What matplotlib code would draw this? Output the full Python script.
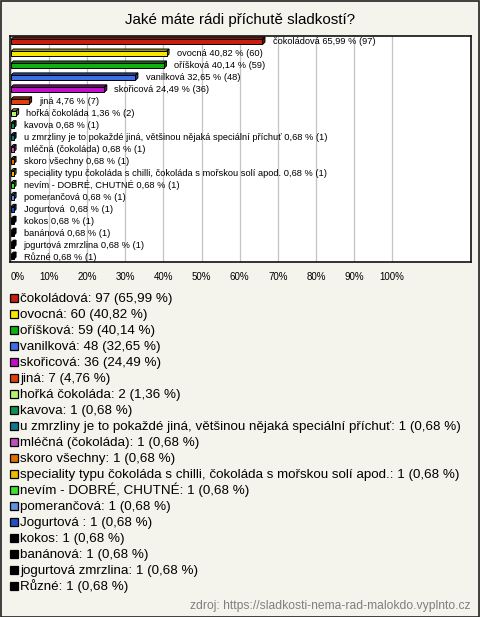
import matplotlib
matplotlib.use("Agg")
import matplotlib.pyplot as plt
from matplotlib.patches import Polygon, Rectangle

plt.rcParams['font.family'] = ['Liberation Sans', 'DejaVu Sans']

# data
flavours = ["čokoládová", "ovocná", "oříšková", "vanilková", "skořicová", "jiná",
            "hořká čokoláda", "kavova",
            "u zmrzliny je to pokaždé jiná, většinou nějaká speciální příchuť",
            "mléčná (čokoláda)", "skoro všechny",
            "speciality typu čokoláda s chilli, čokoláda s mořskou solí apod.",
            "nevím - DOBRÉ, CHUTNÉ", "pomerančová", "Jogurtová ", "kokos",
            "banánová", "jogurtová zmrzlina", "Různé"]
counts = [97, 60, 59, 48, 36, 7, 2, 1, 1, 1, 1, 1, 1, 1, 1, 1, 1, 1, 1]
percents = [65.99, 40.82, 40.14, 32.65, 24.49, 4.76, 1.36, 0.68, 0.68, 0.68,
            0.68, 0.68, 0.68, 0.68, 0.68, 0.68, 0.68, 0.68, 0.68]
colors = ["#c8200e", "#f5e800", "#10b010", "#3c6ee6", "#c010c8", "#e0400a",
          "#b8f070", "#109050", "#107890", "#c050c0", "#e07000", "#f0b800",
          "#40e030", "#6090e0", "#2050c0", "#000000", "#000000", "#000000",
          "#000000"]
xticks = [0, 10, 20, 30, 40, 50, 60, 70, 80, 90, 100]

title = "Jaké máte rádi příchutě sladkostí?"
source = "zdroj: https://sladkosti-nema-rad-malokdo.vyplnto.cz"


def fmt(v):
    return f"{v:.2f}".replace(".", ",")


def shade(c, f):
    r, g, b = matplotlib.colors.to_rgb(c)
    return (r * f, g * f, b * f)


W, H = 480, 617
bg = "#f4f3ec"
fig = plt.figure(figsize=(W / 100, H / 100), dpi=100, facecolor=bg)
fig.patches.append(Rectangle((0.5 / W, 0.5 / H), 1 - 1.5 / W, 1 - 1.5 / H,
                             transform=fig.transFigure, fill=False,
                             edgecolor="#222222", linewidth=1.2))

fig.text(0.5, 1 - 20 / H, title, ha="center", va="center", fontsize=10.9)

# plot area in pixels
left, right, top, bottom = 10, 471, 36, 262
ax = fig.add_axes([left / W, 1 - bottom / H, (right - left) / W, (bottom - top) / H])
ax.set_facecolor("white")
ax.set_xlim(-0.26, 120.7)
ax.set_ylim(18.42, -0.5)
for s in ax.spines.values():
    s.set_color("#111111")
    s.set_linewidth(1.2)
ax.set_yticks([])
ax.set_xticks(xticks)
ax.set_xticklabels([f"{t}%" for t in xticks], fontsize=7)
ax.tick_params(axis="x", length=0, pad=7)
ax.get_xticklabels()[0].set_ha("left")
ax.grid(axis="x", color="#c4c4c4", linewidth=0.9)
ax.set_axisbelow(True)

h = 0.42
dx, dy = 0.65, 0.2
for i, (name, v, n, c) in enumerate(zip(flavours, percents, counts, colors)):
    y0, y1 = i - h / 2, i + h / 2
    ax.add_patch(Polygon([(0, y0), (v, y0), (v + dx, y0 - dy), (dx, y0 - dy)],
                         closed=True, facecolor=shade(c, 0.7), edgecolor="black",
                         linewidth=0.7, zorder=3))
    ax.add_patch(Polygon([(v, y0), (v + dx, y0 - dy), (v + dx, y1 - dy), (v, y1)],
                         closed=True, facecolor=shade(c, 0.55), edgecolor="black",
                         linewidth=0.7, zorder=3))
    ax.add_patch(Rectangle((0, y0), v, h, facecolor=c, edgecolor="black",
                           linewidth=0.7, zorder=4))
    ax.text(v + dx + 2.0, i, f"{name} {fmt(v)} % ({n})", va="center",
            ha="left", fontsize=6.7, zorder=5)

# legend below the chart
lax = fig.add_axes([0, 0, 1, 1], facecolor="none")
lax.set_xlim(0, W)
lax.set_ylim(H, 0)
lax.axis("off")
for i, (name, v, n, c) in enumerate(zip(flavours, percents, counts, colors)):
    yc = 298 + 16 * i
    lax.add_patch(Rectangle((9.5, yc - 4.5), 8, 8, facecolor=c, edgecolor="black",
                            linewidth=0.9))
    lax.text(20.5, yc + 4, f"{name}: {n} ({fmt(v)} %)", va="baseline", ha="left",
             fontsize=9.6)

lax.text(470, 606, source, va="center", ha="right", fontsize=8.7, color="#808080")

fig.savefig("out.png", dpi=100, facecolor=bg)
